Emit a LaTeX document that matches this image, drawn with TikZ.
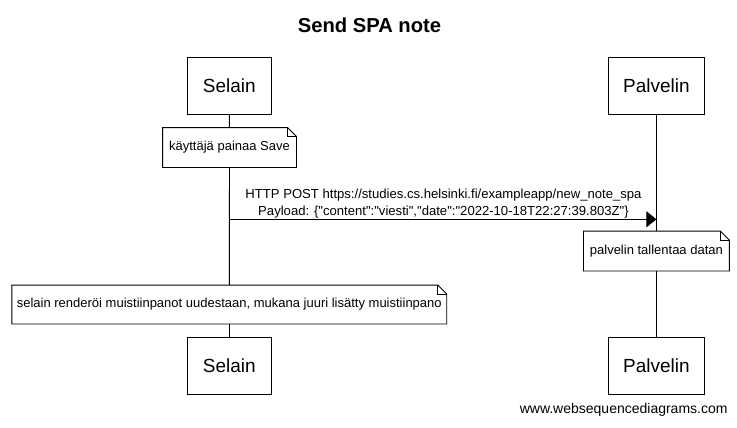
\documentclass[tikz,border=0pt]{standalone}
\usepackage{fontspec}
\setmainfont{Liberation Sans}[Ligatures=TeXOff]
\usetikzlibrary{arrows.meta}
\tikzset{
  every path/.style={line width=0.9pt},
  actor/.style={draw, fill=white, inner sep=0pt, font=\fontsize{19}{22}\selectfont, minimum height=57pt},
  notebox/.style={inner sep=0pt, font=\fontsize{13}{15}\selectfont, minimum height=39pt},
  msg/.style={font=\fontsize{13.1}{17.5}\selectfont, align=center, inner sep=0pt},
  lifeline/.style={draw},
  call/.style={-{Triangle[length=10pt,width=16pt]}},
}
\newcommand{\foldnote}[1]{%
  \fill[white] (#1.north west) -- ([xshift=-9pt]#1.north east) -- ([yshift=-9pt]#1.north east) -- (#1.south east) -- (#1.south west) -- cycle;
  \draw (#1.north west) -- ([xshift=-9pt]#1.north east) -- ([yshift=-9pt]#1.north east) -- (#1.south east) -- (#1.south west) -- cycle;
  \draw ([xshift=-9pt]#1.north east) |- ([yshift=-9pt]#1.north east);
  \node[notebox] at (#1) {\csname notetext#1\endcsname};%
}
\begin{document}
\begin{tikzpicture}[x=1pt,y=-1pt]
\useasboundingbox (0,0) rectangle (737,428);
% title
\node[font=\fontsize{20.2}{24}\selectfont\bfseries] (title) at (369.5,25) {Send SPA note};
% participants
\node[actor, minimum width=83.5pt] (s1) at (229.3,85.5) {Selain};
\node[actor, minimum width=96pt] (p1) at (656.4,85.5) {Palvelin};
\node[actor, minimum width=83.5pt] (s2) at (229.3,365.5) {Selain};
\node[actor, minimum width=96pt] (p2) at (656.4,365.5) {Palvelin};
% notes (placeholders for anchors)
\node[notebox, minimum width=133pt] (n1) at (229.5,147.5) {};
\node[notebox, minimum width=145pt] (n2) at (656.4,251) {};
\node[notebox, minimum width=434pt, minimum height=38pt] (n3) at (229.3,304.5) {};
% lifelines
\draw[lifeline] (s1) -- (n1);
\draw[lifeline] (n1) -- (n3);
\draw[lifeline] (n3) -- (s2);
\draw[lifeline] (p1) -- (n2);
\draw[lifeline] (n2) -- (p2);
% message
\coordinate (m1) at (229.3,219.3);
\coordinate (m2) at (656.4,219.3);
\draw[call] (m1) -- (m2);
\node[msg] (lbl) at (443.5,203.5) {HTTP POST https://studies.cs.helsinki.fi/exampleapp/new\_note\_spa\\Payload: \{"content":"viesti","date":"2022-10-18T22:27:39.803Z"\}};
% notes drawn
\expandafter\def\csname notetextn1\endcsname{käyttäjä painaa Save}
\expandafter\def\csname notetextn2\endcsname{palvelin tallentaa datan}
\expandafter\def\csname notetextn3\endcsname{selain renderöi muistiinpanot uudestaan, mukana juuri lisätty muistiinpano}
\foldnote{n1}
\foldnote{n2}
\foldnote{n3}
% watermark
\node[font=\fontsize{14}{16}\selectfont, anchor=east, inner sep=0pt] (wm) at (728,410) {www.websequencediagrams.com};
\end{tikzpicture}
\end{document}
